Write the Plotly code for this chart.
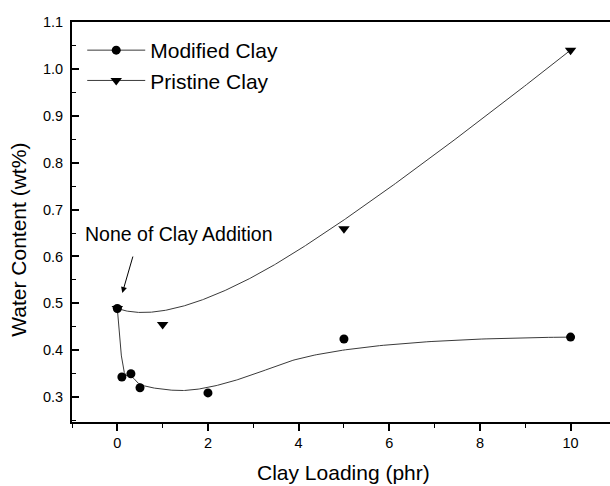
import numpy as np
import plotly.graph_objects as go

# Water content vs clay loading
mod_x = [0, 0.1, 0.3, 0.5, 2, 5, 10]
mod_y = [0.489, 0.343, 0.350, 0.320, 0.309, 0.424, 0.428]
pri_x = [0, 1, 5, 10]
pri_y = [0.489, 0.455, 0.659, 1.040]

x_ticks = [0, 2, 4, 6, 8, 10]
y_ticks = [0.3, 0.4, 0.5, 0.6, 0.7, 0.8, 0.9, 1.0, 1.1]


def bspline(px, py, degree=2, n=400):
    """Clamped uniform B-spline using the data points as control points."""
    P = np.column_stack([px, py]).astype(float)
    m = len(P)
    k = min(degree, m - 1)
    inner = np.linspace(0, 1, m - k + 1)
    knots = np.concatenate([np.zeros(k), inner, np.ones(k)])
    ts = np.linspace(0, 1, n)
    out = []
    for t in ts:
        if t >= 1:
            s = m - 1
        else:
            s = np.searchsorted(knots, t, side="right") - 1
        d = [P[j + s - k].copy() for j in range(k + 1)]
        for r in range(1, k + 1):
            for j in range(k, r - 1, -1):
                i = j + s - k
                den = knots[i + k - r + 1] - knots[i]
                a = 0 if den == 0 else (t - knots[i]) / den
                d[j] = (1 - a) * d[j - 1] + a * d[j]
        out.append(d[k])
    out = np.array(out)
    return out[:, 0], out[:, 1]


mcx, mcy = bspline(mod_x, mod_y)
pcx, pcy = bspline(pri_x, pri_y)

FONT = "Arial, Liberation Sans, Helvetica, sans-serif"
LINE = "#3a3a3a"

fig = go.Figure()

# smoothed curves
fig.add_trace(go.Scatter(x=mcx, y=mcy, mode="lines", line=dict(color=LINE, width=1),
                         showlegend=False, hoverinfo="skip"))
fig.add_trace(go.Scatter(x=pcx, y=pcy, mode="lines", line=dict(color=LINE, width=1),
                         showlegend=False, hoverinfo="skip"))

# measured points
fig.add_trace(go.Scatter(x=mod_x, y=mod_y, mode="markers", name="Modified Clay",
                         showlegend=False,
                         marker=dict(symbol="circle", size=9, color="black")))
fig.add_trace(go.Scatter(x=pri_x, y=pri_y, mode="markers", name="Pristine Clay",
                         showlegend=False,
                         marker=dict(symbol="triangle-down", size=10, color="black")))

# legend keys (line + symbol)
fig.add_trace(go.Scatter(x=[None], y=[None], mode="lines+markers", name="Modified Clay",
                         line=dict(color=LINE, width=1),
                         marker=dict(symbol="circle", size=9, color="black")))
fig.add_trace(go.Scatter(x=[None], y=[None], mode="lines+markers", name="Pristine Clay",
                         line=dict(color=LINE, width=1),
                         marker=dict(symbol="triangle-down", size=10, color="black")))

fig.update_layout(
    width=610, height=486,
    margin=dict(l=72, r=0, t=22, b=64),
    paper_bgcolor="white", plot_bgcolor="white",
    font=dict(family=FONT, color="black"),
    legend=dict(x=0.019, y=0.98, xanchor="left", yanchor="top",
                bgcolor="rgba(0,0,0,0)", font=dict(size=21, family=FONT),
                itemwidth=58, tracegroupgap=0),
    showlegend=True,
)

fig.update_xaxes(
    range=[-1, 10.87], tickvals=x_ticks, ticktext=[str(v) for v in x_ticks],
    showline=True, linecolor="black", linewidth=2, mirror=True,
    ticks="outside", ticklen=7, tickwidth=1.5, tickcolor="black",
    minor=dict(dtick=1, tick0=-1, ticks="outside", ticklen=4, tickwidth=1.2, tickcolor="black"),
    showgrid=False, zeroline=False, tickfont=dict(size=14.5),
)
fig.update_yaxes(
    range=[0.247, 1.1], tickvals=y_ticks, ticktext=[f"{v:.1f}" for v in y_ticks],
    showline=True, linecolor="black", linewidth=2, mirror=False,
    ticks="inside", ticklen=7, tickwidth=1.5, tickcolor="black",
    minor=dict(dtick=0.05, tick0=0.25, ticks="inside", ticklen=4, tickwidth=1.2, tickcolor="black"),
    showgrid=False, zeroline=False, tickfont=dict(size=14.5), ticklabelstandoff=4,
)

# axis titles
fig.add_annotation(text="Water Content (wt%)", xref="paper", yref="paper",
                   x=-0.099, y=0.455, textangle=-90, showarrow=False,
                   xanchor="center", yanchor="middle", font=dict(size=21))
fig.add_annotation(text="Clay Loading (phr)", xref="paper", yref="paper",
                   x=0.505, y=-0.125, showarrow=False,
                   xanchor="center", yanchor="middle", font=dict(size=21))

# callout for the unfilled sample
fig.add_annotation(text="None of Clay Addition", x=1.37, y=0.648, xref="x", yref="y",
                   showarrow=False, font=dict(size=19.5))
fig.add_annotation(text="", x=0.11, y=0.522, xref="x", yref="y",
                   ax=11, ay=-38, showarrow=True, arrowhead=2, arrowsize=1.2,
                   arrowwidth=1, arrowcolor="black")

fig.write_html("out.html")
